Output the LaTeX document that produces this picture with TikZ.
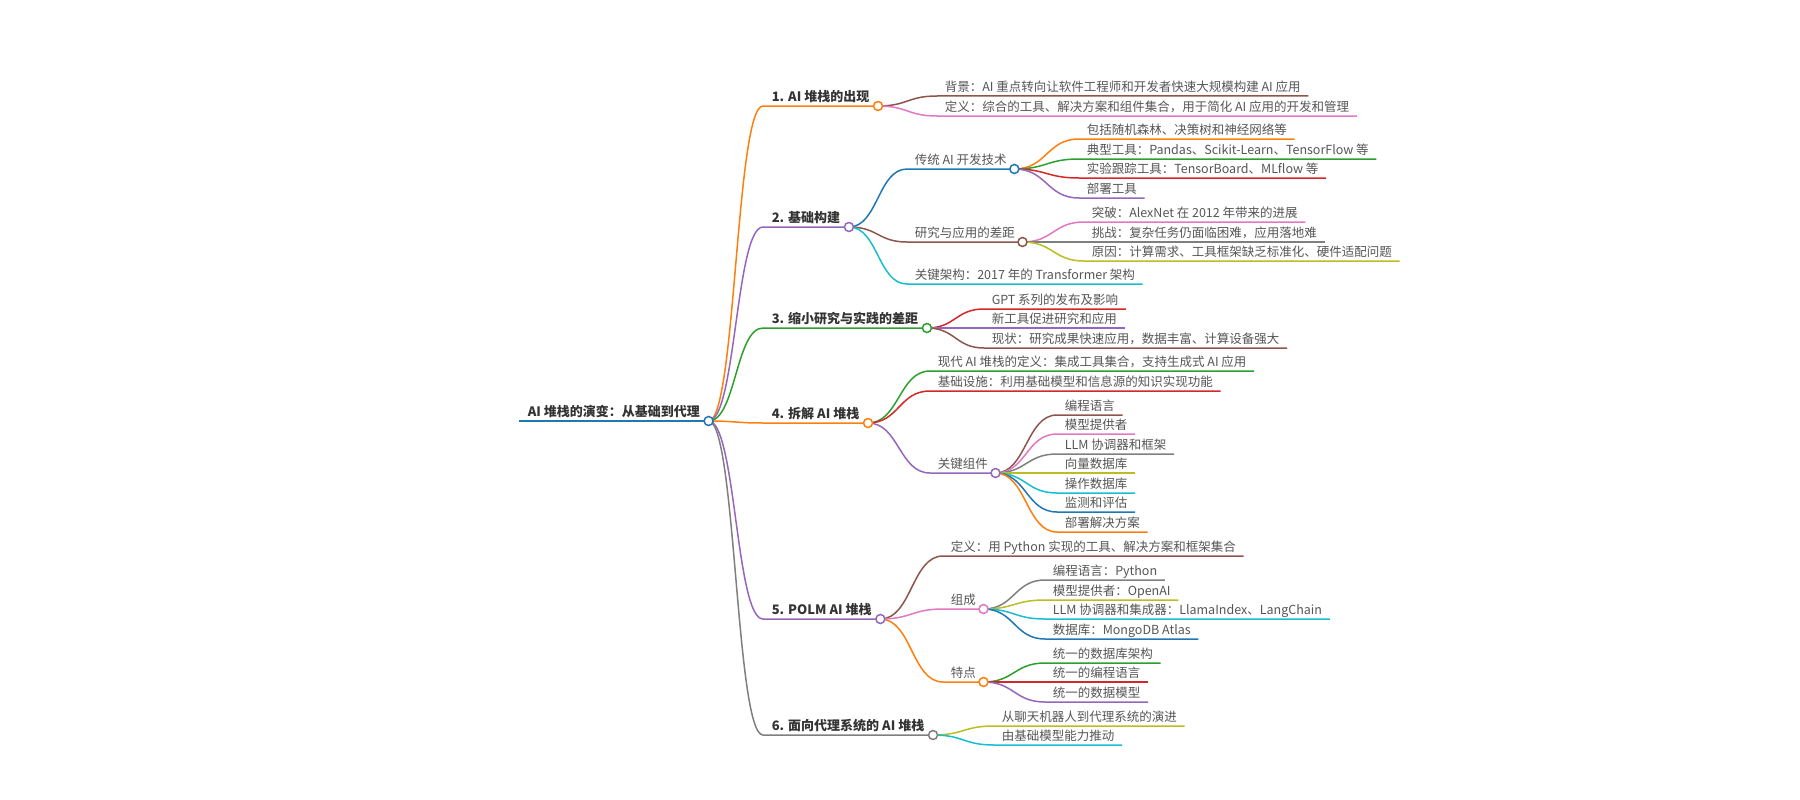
\documentclass[tikz,border=0pt]{standalone}
\usepackage{fontspec}
\setmainfont{Noto Sans CJK SC}
\usepackage{xcolor}
\usepackage{tikz}
\usetikzlibrary{calc}
\definecolor{cblue}{HTML}{1F77B4}
\definecolor{corange}{HTML}{FF7F0E}
\definecolor{cgreen}{HTML}{2CA02C}
\definecolor{cred}{HTML}{D62728}
\definecolor{cpurple}{HTML}{9467BD}
\definecolor{cbrown}{HTML}{8C564B}
\definecolor{cpink}{HTML}{E377C2}
\definecolor{cgray}{HTML}{7F7F7F}
\definecolor{colive}{HTML}{BCBD22}
\definecolor{ccyan}{HTML}{17BECF}
\definecolor{toptext}{HTML}{333333}
\definecolor{leaftext}{HTML}{555555}

\begin{document}
\begin{tikzpicture}[x=1pt,y=-1pt,line width=1.5pt,
  topic/.style={anchor=south west,inner xsep=8pt,inner ysep=1pt,text depth=3pt,text=toptext,font=\fontsize{13}{15}\selectfont\bfseries},
  leaf/.style={anchor=south west,inner xsep=7pt,inner ysep=1pt,text depth=3pt,text=leaftext,font=\fontsize{12.5}{14}\selectfont},
  link/.style={to path={let \p1=(\tikztostart), \p2=(\tikztotarget) in .. controls ({(\x1+\x2)/2},\y1) and ({(\x1+\x2)/2},\y2) .. (\tikztotarget)}},
  dot/.style={fill=white,line width=1.5pt}]
\useasboundingbox (0,0) rectangle (1800,800);

\node[topic] (root) at (519,421) {AI 堆栈的演变：从基础到代理};
\draw[cblue,line width=2pt] (root.south west) -- (root.south east);

\foreach \k/\v/\c/\t in {1/106/corange/{1. AI 堆栈的出现}, 2/227/cpurple/{2. 基础构建}, 3/328/cgreen/{3. 缩小研究与实践的差距}, 4/423/corange/{4. 拆解 AI 堆栈}, 5/619/cpurple/{5. POLM AI 堆栈}, 6/735/cgray/{6. 面向代理系统的 AI 堆栈}}
{
  \node[topic] (t\k) at (763,\v) {\t};
  \draw[\c] (root.south east) to[link] (t\k.south west) -- (t\k.south east);
}

\foreach \i/\v/\c/\t in {1/96/cbrown/{背景：AI 重点转向让软件工程师和开发者快速大规模构建 AI 应用}, 2/116/cpink/{定义：综合的工具、解决方案和组件集合，用于简化 AI 应用的开发和管理}}
{
  \node[leaf] (t1-\i) at (937,\v) {\t};
  \draw[\c] (t1.south east) to[link] (t1-\i.south west) -- (t1-\i.south east);
}

\foreach \m/\v/\c/\t in {t2a/169/cblue/{传统 AI 开发技术}, t2b/242/cbrown/{研究与应用的差距}, t2c/284/ccyan/{关键架构：2017 年的 Transformer 架构}}
{
  \node[leaf] (\m) at (907,\v) {\t};
  \draw[\c] (t2.south east) to[link] (\m.south west) -- (\m.south east);
}
\foreach \i/\v/\c/\t in {1/139/corange/{包括随机森林、决策树和神经网络等}, 2/159/cgreen/{典型工具：Pandas、Scikit-Learn、TensorFlow 等}, 3/178/cred/{实验跟踪工具：TensorBoard、MLflow 等}, 4/198/cpurple/{部署工具}}
{
  \node[leaf] (t2a-\i) at (1079,\v) {\t};
  \draw[\c] (t2a.south east) to[link] (t2a-\i.south west) -- (t2a-\i.south east);
}
\foreach \i/\v/\c/\t in {1/222/cpink/{突破：AlexNet 在 2012 年带来的进展}, 2/242/cgray/{挑战：复杂任务仍面临困难，应用落地难}, 3/261/colive/{原因：计算需求、工具框架缺乏标准化、硬件适配问题}}
{
  \node[leaf] (t2b-\i) at (1084,\v) {\t};
  \draw[\c] (t2b.south east) to[link] (t2b-\i.south west) -- (t2b-\i.south east);
}

\foreach \i/\v/\c/\t in {1/309/cred/{GPT 系列的发布及影响}, 2/328/cpurple/{新工具促进研究和应用}, 3/348/cbrown/{现状：研究成果快速应用，数据丰富、计算设备强大}}
{
  \node[leaf] (t3-\i) at (984,\v) {\t};
  \draw[\c] (t3.south east) to[link] (t3-\i.south west) -- (t3-\i.south east);
}

\foreach \m/\v/\c/\t in {t4a/371/cgreen/{现代 AI 堆栈的定义：集成工具集合，支持生成式 AI 应用}, t4b/391/cred/{基础设施：利用基础模型和信息源的知识实现功能}, t4c/473/cpurple/{关键组件}}
{
  \node[leaf] (\m) at (930,\v) {\t};
  \draw[\c] (t4.south east) to[link] (\m.south west) -- (\m.south east);
}
\foreach \i/\v/\c/\t in {1/415/cbrown/{编程语言}, 2/434/cpink/{模型提供者}, 3/454/cgray/{LLM 协调器和框架}, 4/473/colive/{向量数据库}, 5/493/ccyan/{操作数据库}, 6/512/cblue/{监测和评估}, 7/532/corange/{部署解决方案}}
{
  \node[leaf] (t4c-\i) at (1057,\v) {\t};
  \draw[\c] (t4c.south east) to[link] (t4c-\i.south west) -- (t4c-\i.south east);
}

\foreach \m/\v/\c/\t in {t5a/556/cbrown/{定义：用 Python 实现的工具、解决方案和框架集合}, t5b/609/cpink/{组成}, t5c/682/corange/{特点}}
{
  \node[leaf] (\m) at (943,\v) {\t};
  \draw[\c] (t5.south east) to[link] (\m.south west) -- (\m.south east);
}
\foreach \i/\v/\c/\t in {1/580/cgray/{编程语言：Python}, 2/600/colive/{模型提供者：OpenAI}, 3/619/ccyan/{LLM 协调器和集成器：LlamaIndex、LangChain}, 4/639/cblue/{数据库：MongoDB Atlas}}
{
  \node[leaf] (t5b-\i) at (1045,\v) {\t};
  \draw[\c] (t5b.south east) to[link] (t5b-\i.south west) -- (t5b-\i.south east);
}
\foreach \i/\v/\c/\t in {1/663/cgreen/{统一的数据库架构}, 2/682/cred/{统一的编程语言}, 3/702/cpurple/{统一的数据模型}}
{
  \node[leaf] (t5c-\i) at (1045,\v) {\t};
  \draw[\c] (t5c.south east) to[link] (t5c-\i.south west) -- (t5c-\i.south east);
}

\foreach \i/\v/\c/\t in {1/726/colive/{从聊天机器人到代理系统的演进}, 2/745/ccyan/{由基础模型能力推动}}
{
  \node[leaf] (t6-\i) at (994,\v) {\t};
  \draw[\c] (t6.south east) to[link] (t6-\i.south west) -- (t6-\i.south east);
}

\foreach \q/\c in {root/cblue, t1/corange, t2/cpurple, t3/cgreen, t4/corange, t5/cpurple, t6/cgray, t2a/cblue, t2b/cbrown, t4c/cpurple, t5b/cpink, t5c/corange}
  \draw[\c,dot] (\q.south east) circle[radius=4.5pt];
\end{tikzpicture}
\end{document}
